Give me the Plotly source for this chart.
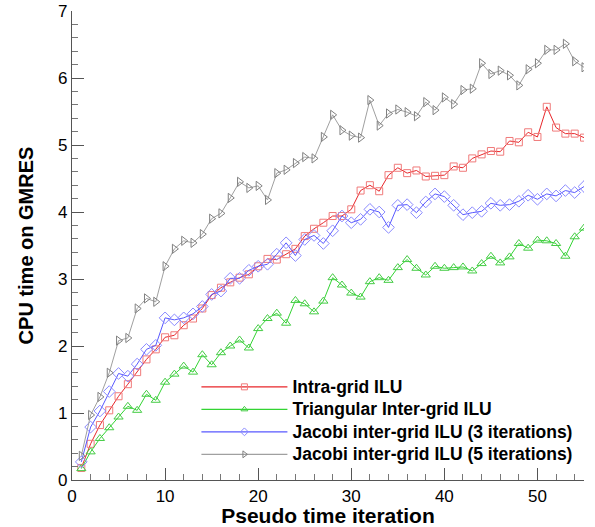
import plotly.graph_objects as go

iterations = list(range(1, 56))

intra_grid_ilu = [0.18, 0.54, 0.82, 1.04, 1.25, 1.43, 1.61, 1.80, 1.95, 2.13,
                  2.16, 2.31, 2.41, 2.56, 2.76, 2.87, 2.95, 3.02, 3.07, 3.19,
                  3.30, 3.29, 3.37, 3.45, 3.64, 3.75, 3.84, 3.94, 3.94, 4.04,
                  4.32, 4.40, 4.31, 4.55, 4.66, 4.58, 4.62, 4.53, 4.54, 4.55,
                  4.68, 4.66, 4.80, 4.86, 4.91, 4.90, 5.06, 5.04, 5.19, 5.12,
                  5.57, 5.26, 5.17, 5.17, 5.11]

triangular_inter_grid = [0.17, 0.42, 0.62, 0.78, 0.94, 1.10, 1.04, 1.28, 1.19, 1.46,
                         1.58, 1.70, 1.61, 1.87, 1.72, 1.90, 2.00, 2.09, 1.97, 2.26,
                         2.41, 2.49, 2.34, 2.68, 2.63, 2.51, 2.67, 3.02, 2.91, 2.79,
                         2.73, 2.96, 3.02, 2.98, 3.17, 3.29, 3.16, 3.06, 3.19, 3.16,
                         3.17, 3.18, 3.12, 3.23, 3.34, 3.24, 3.33, 3.53, 3.46, 3.58,
                         3.57, 3.53, 3.34, 3.63, 3.76]

jacobi_3 = [0.27, 0.79, 1.03, 1.32, 1.59, 1.55, 1.73, 1.95, 2.01, 2.42,
            2.39, 2.42, 2.48, 2.59, 2.77, 2.82, 3.01, 3.01, 3.13, 3.19,
            3.22, 3.37, 3.54, 3.35, 3.59, 3.65, 3.53, 3.72, 3.94, 3.84,
            3.89, 4.04, 4.00, 3.77, 4.10, 4.11, 3.99, 4.15, 4.27, 4.23,
            4.10, 3.96, 3.99, 4.01, 4.13, 4.10, 4.11, 4.16, 4.25, 4.19,
            4.27, 4.24, 4.32, 4.29, 4.38]

jacobi_5 = [0.36, 0.97, 1.24, 1.60, 2.08, 2.12, 2.56, 2.71, 2.66, 3.19,
            3.45, 3.57, 3.54, 3.67, 3.90, 3.98, 4.21, 4.45, 4.36, 4.39,
            4.18, 4.58, 4.63, 4.73, 4.82, 4.80, 5.12, 5.45, 5.22, 5.14,
            5.11, 5.67, 5.29, 5.47, 5.53, 5.49, 5.43, 5.64, 5.52, 5.71,
            5.61, 5.82, 5.84, 6.22, 6.06, 6.11, 6.04, 5.89, 6.13, 6.22,
            6.42, 6.42, 6.51, 6.25, 6.16]

series_names = ["Intra-grid ILU", "Triangular Inter-grid ILU",
                "Jacobi inter-grid ILU (3 iterations)",
                "Jacobi inter-grid ILU (5 iterations)"]

styles = [
    dict(line="#e8262a", marker="#f07a7a", symbol="square-open", size=7),
    dict(line="#33d433", marker="#44cc44", symbol="triangle-up-open", size=8),
    dict(line="#5858ff", marker="#8a8aff", symbol="diamond-open", size=9),
    dict(line="#a0a0a0", marker="#808080", symbol="triangle-right-open", size=8),
]

data = [intra_grid_ilu, triangular_inter_grid, jacobi_3, jacobi_5]

fig = go.Figure()
for name, vals, st in zip(series_names, data, styles):
    fig.add_trace(go.Scatter(
        x=iterations, y=vals, name=name, mode="lines+markers",
        legendgroup=name, showlegend=False,
        line=dict(color=st["line"], width=1),
        marker=dict(symbol=st["symbol"], size=st["size"],
                    color=st["marker"], line=dict(color=st["marker"], width=1)),
    ))
# legend entries (smaller legend symbols, as in the reference)
for name, st in zip(series_names, styles):
    fig.add_trace(go.Scatter(
        x=[None], y=[None], mode="lines+markers", legendgroup=name,
        name='<span style="font-size:17.5px">' + name + '</span>',
        line=dict(color=st["line"], width=1.2),
        marker=dict(symbol=st["symbol"], size=6,
                    color=st["marker"], line=dict(color=st["marker"], width=1)),
    ))

axis_common = dict(
    showline=True, linecolor="#555555", linewidth=1.3,
    ticks="inside", tickcolor="#555555", ticklen=12, tickwidth=1.2,
    showgrid=False, zeroline=False, mirror=False, automargin=False,
    tickfont=dict(family="Liberation Sans, Arial", size=17, color="#000"),
)

fig.update_xaxes(
    range=[0, 55], dtick=10, tick0=0,
    minor=dict(ticks="inside", dtick=2, ticklen=6, tickcolor="#777777", showgrid=False),
    title=dict(text="<b>Pseudo time iteration</b>",
               font=dict(family="Liberation Sans, Arial", size=21, color="#000"),
               standoff=6),
    **axis_common,
)
fig.update_yaxes(
    range=[0, 7], dtick=1, tick0=0,
    minor=dict(ticks="inside", dtick=0.2, ticklen=6, tickcolor="#777777", showgrid=False),
    title=dict(text="<b>CPU time on GMRES</b>",
               font=dict(family="Liberation Sans, Arial", size=20, color="#000"),
               standoff=18),
    **axis_common,
)

fig.update_layout(
    width=595, height=527,
    margin=dict(l=71.5, r=11, t=11, b=47),
    paper_bgcolor="white", plot_bgcolor="white",
    showlegend=True,
    legend=dict(x=0.243, y=0.2333, xanchor="left", yanchor="top",
                font=dict(family="Liberation Sans, Arial", size=15, color="#000",
                          weight="bold"),
                bgcolor="rgba(0,0,0,0)", itemwidth=86, tracegroupgap=0,
                borderwidth=0),
)

fig.write_html("out.html")
